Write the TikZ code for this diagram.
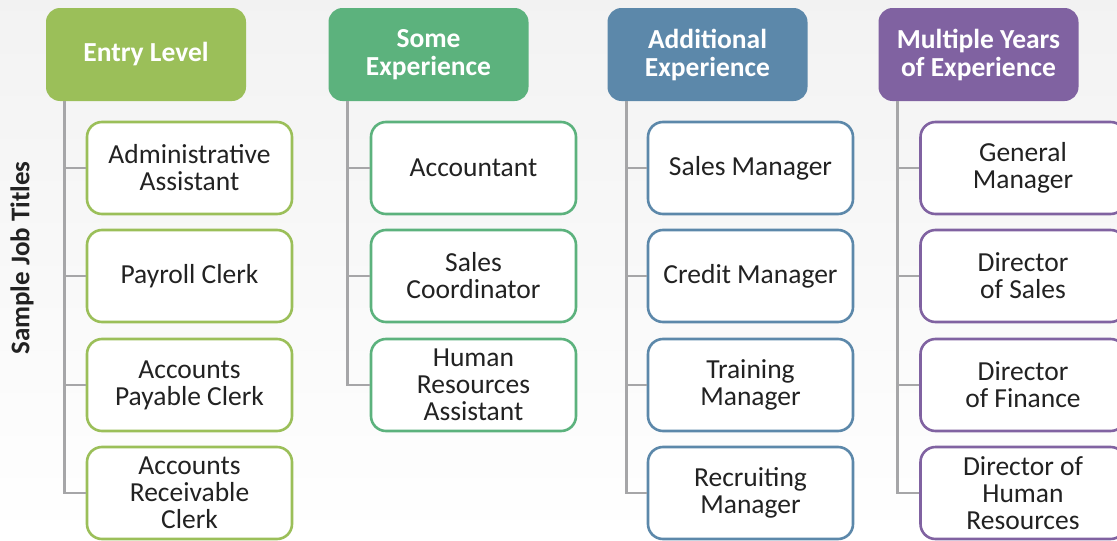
\documentclass[tikz,border=0pt]{standalone}
\usepackage{fontspec}
\setmainfont{Carlito}
\definecolor{cA}{HTML}{9BBF59}
\definecolor{cB}{HTML}{5CB27D}
\definecolor{cC}{HTML}{5C88AA}
\definecolor{cD}{HTML}{8062A1}
\definecolor{conngray}{HTML}{A6A6A8}
\definecolor{txt}{HTML}{222222}
\begin{document}
\begin{tikzpicture}[x=1pt,y=-1pt,
  head/.style={rounded corners=14pt, minimum width=200pt, minimum height=93pt, inner sep=2pt,
    text=white, align=center, font=\bfseries\fontsize{27.5}{28}\selectfont},
  job/.style={draw, fill=white, rounded corners=15pt, line width=2.6pt, minimum width=205pt,
    minimum height=92pt, inner sep=2pt, text=txt, align=center,
    font=\fontsize{27.5}{27}\selectfont},
  conn/.style={draw=conngray, line width=2.8pt}]
\useasboundingbox (0,0) rectangle (1117,541);
\clip (0,0) rectangle (1117,541);
\shade[top color=black!5, bottom color=white] (0,0) rectangle (1117,541);

\node[rotate=90, text=txt, font=\bfseries\fontsize{27}{30}\selectfont] (lbl) at (22,258) {Sample Job Titles};

% headers
\node[head, fill=cA] (h1) at (146,54.5) {Entry Level};
\node[head, fill=cB] (h2) at (428.5,54.5) {Some\\Experience};
\node[head, fill=cC] (h3) at (707.5,54.5) {Additional\\Experience};
\node[head, fill=cD] (h4) at (978.5,54.5) {Multiple Years\\of Experience};

% column 1
\node[job, draw=cA] (a1) at (189.5,168) {Administrative\\Assistant};
\node[job, draw=cA] (a2) at (189.5,276) {Payroll Clerk};
\node[job, draw=cA] (a3) at (189.5,385) {Accounts\\Payable Clerk};
\node[job, draw=cA] (a4) at (189.5,493) {Accounts\\Receivable\\Clerk};
% column 2
\node[job, draw=cB] (b1) at (473.5,168) {Accountant};
\node[job, draw=cB] (b2) at (473.5,276) {Sales\\Coordinator};
\node[job, draw=cB] (b3) at (473.5,385) {Human\\Resources\\Assistant};
% column 3
\node[job, draw=cC] (c1) at (750.5,168) {Sales Manager};
\node[job, draw=cC] (c2) at (750.5,276) {Credit Manager};
\node[job, draw=cC] (c3) at (750.5,385) {Training\\Manager};
\node[job, draw=cC] (c4) at (750.5,493) {Recruiting\\Manager};
% column 4
\node[job, draw=cD] (d1) at (1023,168) {General\\Manager};
\node[job, draw=cD] (d2) at (1023,276) {Director\\of Sales};
\node[job, draw=cD] (d3) at (1023,385) {Director\\of Finance};
\node[job, draw=cD] (d4) at (1023,493) {Director of\\Human\\Resources};

\foreach \h/\c in {h1/a1,h1/a2,h1/a3,h1/a4,h2/b1,h2/b2,h2/b3,h3/c1,h3/c2,h3/c3,h3/c4,h4/d1,h4/d2,h4/d3,h4/d4}
  \draw[conn] ([xshift=19pt]\h.south west) |- (\c.west);
\end{tikzpicture}
\end{document}
